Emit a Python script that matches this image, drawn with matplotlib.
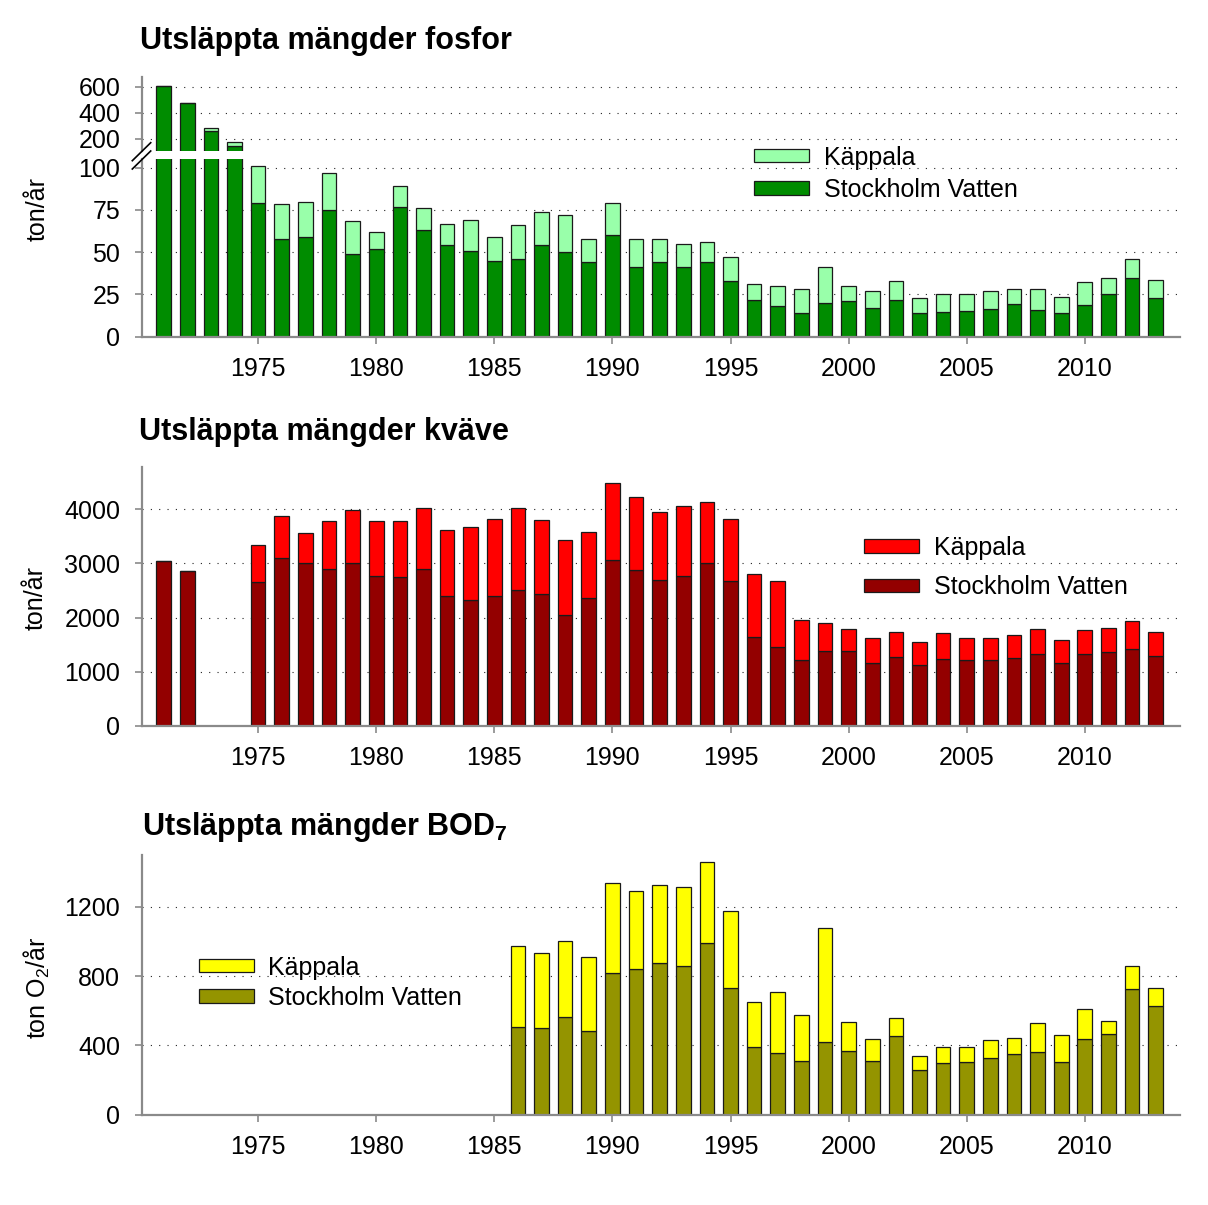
import matplotlib
matplotlib.use('Agg')
import matplotlib.pyplot as plt
from matplotlib.lines import Line2D
import numpy as np

plt.rcParams['font.family'] = ['Liberation Sans', 'DejaVu Sans']
plt.rcParams['mathtext.fontset'] = 'custom'
plt.rcParams['mathtext.rm'] = 'Liberation Sans'
plt.rcParams['mathtext.bf'] = 'Liberation Sans:bold'
plt.rcParams['mathtext.it'] = 'Liberation Sans:italic'

# ---------------- data ----------------
years_p = list(range(1971, 2014))
p_stockholm = [602, 474, 262, 144, 79, 57.6, 59, 75, 49, 52, 77, 63, 54, 51, 45, 46,
               54, 50, 44, 60, 41, 44, 41, 44, 33, 22, 18, 14, 20, 21, 17, 21.5, 14,
               14.5, 15.5, 16.5, 19.5, 16, 14, 19, 25, 34.5, 23]
p_kappala = [0, 0, 20, 30, 22, 20.7, 21, 22, 19.5, 10, 12, 13, 13, 18, 14, 20,
             20, 22, 14, 19, 17, 14, 14, 12, 14, 9, 12, 14, 21, 9, 10, 11.5, 9,
             11, 9.5, 10.5, 9, 12, 9.5, 13.5, 9.5, 11.5, 10.5]

years_n = [1971, 1972] + list(range(1975, 2014))
n_stockholm = [3051, 2854, 2650, 3094, 3002, 2891, 3008, 2773, 2743, 2891, 2391, 2317,
               2404, 2502, 2428, 2046, 2354, 3057, 2878, 2693, 2773, 3002, 2669, 1633,
               1448, 1208, 1374, 1387, 1159, 1263, 1116, 1227, 1220, 1208, 1245, 1319,
               1159, 1319, 1362, 1411, 1282]
n_kappala = [0, 0, 697, 789, 560, 887, 974, 1011, 1047, 1140, 1233, 1363,
             1423, 1516, 1369, 1381, 1233, 1436, 1344, 1264, 1295, 1134, 1158, 1177,
             1233, 746, 524, 407, 468, 469, 437, 493, 407, 407, 425, 475,
             419, 456, 450, 524, 456]

years_b = list(range(1986, 2014))
b_stockholm = [505, 499, 562, 482, 817, 840, 876, 857, 990, 734, 389, 358, 308, 420,
               366, 312, 453, 256, 297, 302, 326, 349, 360, 304, 435, 464, 724, 628]
b_kappala = [468, 437, 440, 431, 520, 450, 449, 457, 468, 441, 260, 349, 266, 661,
             171, 125, 106, 83, 92, 87, 104, 94, 168, 154, 178, 75, 135, 102]

xticks = [1975, 1980, 1985, 1990, 1995, 2000, 2005, 2010]
series_labels = ['Käppala', 'Stockholm Vatten']

# ---------------- layout helpers ----------------
W, H = 1208, 1205
fig = plt.figure(figsize=(W / 100, H / 100), dpi=100)


def rect(x0, y_top, x1, y_bot):
    return [x0 / W, 1 - y_bot / H, (x1 - x0) / W, (y_bot - y_top) / H]


XL, XR = 141.9, 1180
XLIM = (1970.08, 2014.03)
BW = 0.62
EDGE = '#1a1a1a'
SPINE = '#8a8a8a'
FS = 18
TFS = 22
GRID = dict(color='#222222', linestyle=(0, (1, 6.5)), linewidth=0.8)


def style(ax, xt=True):
    for s in ['top', 'right']:
        ax.spines[s].set_visible(False)
    ax.spines['left'].set_color(SPINE)
    ax.spines['left'].set_linewidth(1.6)
    ax.spines['bottom'].set_color(SPINE)
    ax.spines['bottom'].set_linewidth(1.6)
    ax.set_xlim(*XLIM)
    ax.tick_params(axis='y', direction='out', length=5, width=1.2, color=SPINE,
                   labelsize=FS, pad=10.5)
    ax.tick_params(axis='x', direction='out', length=5, width=1.2, color=SPINE,
                   labelsize=FS, pad=9.5)
    if xt:
        ax.set_xticks(xticks)
    else:
        ax.set_xticks([])
        ax.spines['bottom'].set_visible(False)
    ax.set_axisbelow(True)


def bars(ax, years, sv, kap, c_sv, c_kap):
    b1 = ax.bar(years, sv, width=BW, color=c_sv, edgecolor=EDGE, linewidth=0.9,
                label=series_labels[1])
    b2 = ax.bar(years, kap, width=BW, bottom=sv, color=c_kap, edgecolor=EDGE,
                linewidth=0.9, label=series_labels[0])
    return b1, b2


def legend(ax, handles, x_left, y_top, spacing):
    ax.legend(handles[::-1], series_labels, loc='upper left',
              bbox_to_anchor=(x_left / W, 1 - y_top / H), bbox_transform=fig.transFigure,
              frameon=False, fontsize=FS, handlelength=2.2, handleheight=0.46,
              handletextpad=0.58, labelspacing=spacing, borderpad=0, borderaxespad=0)


# ---------------- fosfor (broken axis) ----------------
G_SV, G_K = '#008C00', '#99FFAA'
ax_up = fig.add_axes(rect(XL, 76.7, XR, 151.3))
ax_lo = fig.add_axes(rect(XL, 159.3, XR, 336.7))
for ax in (ax_up, ax_lo):
    h = bars(ax, years_p, p_stockholm, p_kappala, G_SV, G_K)
style(ax_up, xt=False)
style(ax_lo)
ax_up.set_ylim(106, 676)
ax_up.set_yticks([200, 400, 600])
ax_up.yaxis.grid(True, **GRID)
ax_lo.set_ylim(0, 105)
ax_lo.set_yticks([0, 25, 50, 75, 100])
ax_lo.yaxis.grid(True, **GRID)
legend(ax_lo, h, 754, 145.5, 0.34)
for (x0, y0, x1, y1) in [(132.3, 160.7, 150.7, 142.7), (132.3, 169.0, 150.7, 151.0)]:
    fig.add_artist(Line2D([x0 / W, x1 / W], [1 - y0 / H, 1 - y1 / H], color='black',
                          linewidth=1.2, transform=fig.transFigure))
fig.text(140 / W, 1 - 41 / H, 'Utsläppta mängder fosfor', fontsize=TFS,
         fontweight='bold', ha='left', va='center')
fig.text(38 / W, 1 - 209 / H, 'ton/år', fontsize=FS, rotation=90, ha='center', va='center')

# ---------------- kväve ----------------
ax_n = fig.add_axes(rect(XL, 466.7, XR, 725.7))
h = bars(ax_n, years_n, n_stockholm, n_kappala, '#930000', '#FF0000')
style(ax_n)
ax_n.set_ylim(0, 4790)
ax_n.set_yticks([0, 1000, 2000, 3000, 4000])
ax_n.yaxis.grid(True, **GRID)
legend(ax_n, h, 864, 536, 0.62)
fig.text(139 / W, 1 - 432 / H, 'Utsläppta mängder kväve', fontsize=TFS,
         fontweight='bold', ha='left', va='center')
fig.text(36 / W, 1 - 598 / H, 'ton/år', fontsize=FS, rotation=90, ha='center', va='center')

# ---------------- BOD ----------------
ax_b = fig.add_axes(rect(XL, 855, XR, 1114.7))
h = bars(ax_b, years_b, b_stockholm, b_kappala, '#949400', '#FFFF00')
style(ax_b)
ax_b.set_ylim(0, 1500)
ax_b.set_yticks([0, 400, 800, 1200])
ax_b.yaxis.grid(True, **GRID)
legend(ax_b, h, 199, 955.5, 0.26)
fig.text(142 / W, 1 - 827 / H, r'Utsläppta mängder BOD$_\mathbf{7}$', fontsize=TFS,
         fontweight='bold', ha='left', va='center')
fig.text(37 / W, 1 - 988 / H, r'ton O$_2$/år', fontsize=FS, rotation=90,
         ha='center', va='center')

fig.savefig('out.png', dpi=100)
